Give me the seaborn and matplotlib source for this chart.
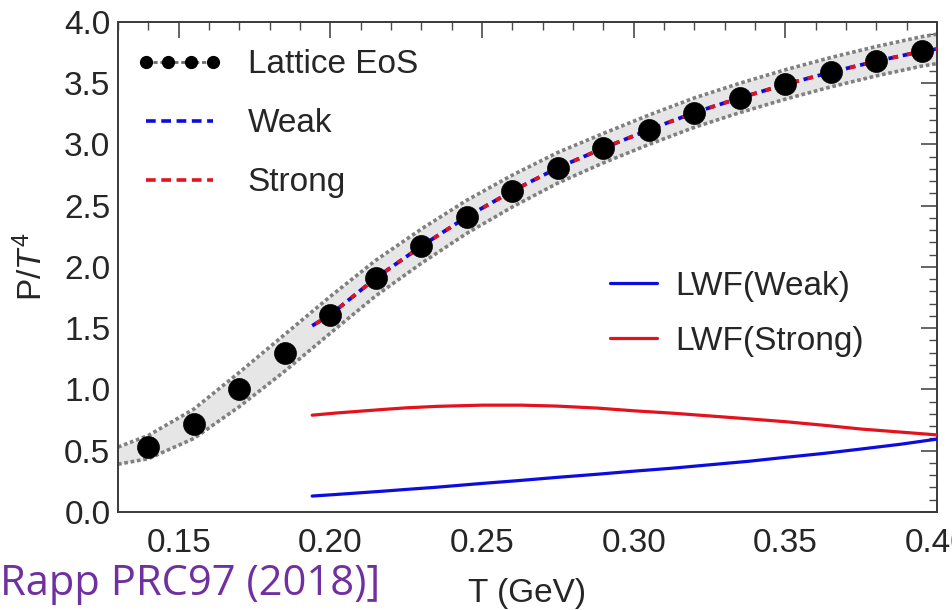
import numpy as np
import pandas as pd
import seaborn as sns
import matplotlib
matplotlib.use("Agg")
import matplotlib.pyplot as plt
from matplotlib.lines import Line2D

# ---- data -----------------------------------------------------------------
# lattice QCD pressure points
lattice_T = [0.140, 0.155, 0.170, 0.185, 0.200, 0.215, 0.230, 0.245, 0.260,
             0.275, 0.290, 0.305, 0.320, 0.335, 0.350, 0.365, 0.380, 0.395]
lattice_P = [0.53, 0.72, 1.00, 1.30, 1.61, 1.91, 2.17, 2.41, 2.62,
             2.81, 2.97, 3.12, 3.26, 3.38, 3.49, 3.59, 3.68, 3.76]

# uncertainty band around the lattice EoS
band_T = [0.130, 0.140, 0.155, 0.170, 0.185, 0.200, 0.215, 0.230, 0.245, 0.260,
          0.275, 0.290, 0.305, 0.320, 0.335, 0.350, 0.365, 0.380, 0.395, 0.400]
band_hi = [0.53, 0.625, 0.84, 1.14, 1.45, 1.76, 2.055, 2.31, 2.545, 2.75,
           2.935, 3.09, 3.24, 3.38, 3.50, 3.61, 3.71, 3.80, 3.88, 3.90]
band_lo = [0.39, 0.435, 0.60, 0.86, 1.15, 1.46, 1.765, 2.03, 2.275, 2.49,
           2.685, 2.85, 3.00, 3.14, 3.26, 3.37, 3.47, 3.56, 3.64, 3.66]

# T-matrix model EoS (weak / strong coupling scenarios)
model_T = [0.194, 0.200, 0.215, 0.230, 0.245, 0.260, 0.275, 0.290, 0.305,
           0.320, 0.335, 0.350, 0.365, 0.380, 0.395, 0.400]
weak_P = [1.52, 1.61, 1.91, 2.17, 2.41, 2.62, 2.81, 2.97, 3.12,
          3.26, 3.38, 3.49, 3.59, 3.68, 3.76, 3.78]
strong_P = [1.52, 1.61, 1.91, 2.17, 2.41, 2.62, 2.81, 2.97, 3.12,
            3.26, 3.38, 3.49, 3.59, 3.68, 3.76, 3.78]

# Luttinger-Ward functional contributions
lwf_T = [0.194, 0.202, 0.210, 0.218, 0.225, 0.235, 0.250, 0.263, 0.275,
         0.288, 0.300, 0.313, 0.325, 0.338, 0.350, 0.363, 0.375, 0.388, 0.400]
lwf_weak = [0.130, 0.143, 0.157, 0.171, 0.184, 0.202, 0.233, 0.258, 0.283,
            0.308, 0.333, 0.358, 0.385, 0.414, 0.446, 0.479, 0.514, 0.553, 0.595]
lwf_strong = [0.790, 0.808, 0.823, 0.838, 0.850, 0.862, 0.872, 0.872, 0.864,
              0.848, 0.826, 0.806, 0.784, 0.760, 0.737, 0.707, 0.677, 0.652, 0.629]

x_major = [0.15, 0.20, 0.25, 0.30, 0.35, 0.40]
x_labels = ["0.15", "0.20", "0.25", "0.30", "0.35", "0.40"]
y_major = [0.0, 0.5, 1.0, 1.5, 2.0, 2.5, 3.0, 3.5, 4.0]
y_labels = ["0.0", "0.5", "1.0", "1.5", "2.0", "2.5", "3.0", "3.5", "4.0"]

# ---- style ----------------------------------------------------------------
sns.set_theme(style="white")
plt.rcParams["font.family"] = ["Liberation Sans", "DejaVu Sans"]
plt.rcParams["mathtext.fontset"] = "custom"
plt.rcParams["mathtext.rm"] = "Liberation Sans"
plt.rcParams["mathtext.it"] = "Liberation Sans:italic"
plt.rcParams["lines.scale_dashes"] = False

BLUE = "#0c0ce0"
RED = "#e3121c"
EDGE = "#808080"
FS = 24

fig = plt.figure(figsize=(9.52, 6.10), dpi=100)
ax = fig.add_axes([0.124, 0.1607, 0.8603, 0.8033])

# band
ax.fill_between(band_T, band_lo, band_hi, color="#e6e6e6", lw=0, zorder=1)
for edge in (band_hi, band_lo):
    sns.lineplot(x=band_T, y=edge, ax=ax, color=EDGE, lw=2.6, zorder=2)
    ln = ax.lines[-1]
    ln.set_linestyle((0, (2.6, 2.0)))
    ln.set_dash_capstyle("butt")

# model curves
sns.lineplot(x=model_T, y=weak_P, ax=ax, color=BLUE, lw=2.7, zorder=3)
ax.lines[-1].set_linestyle((0, (7.0, 3.5)))
sns.lineplot(x=model_T, y=strong_P, ax=ax, color=RED, lw=2.7, zorder=3)
ax.lines[-1].set_linestyle((7.5, (4.0, 6.5)))

# LWF curves
sns.lineplot(x=lwf_T, y=lwf_weak, ax=ax, color=BLUE, lw=2.3, zorder=3)
sns.lineplot(x=lwf_T, y=lwf_strong, ax=ax, color=RED, lw=2.3, zorder=3)

# lattice points
sns.scatterplot(x=lattice_T, y=lattice_P, ax=ax, s=250, color="black",
                edgecolor="black", linewidth=0.5, zorder=5)

# ---- axes -----------------------------------------------------------------
ax.set_xlim(0.13, 0.40)
ax.set_ylim(0.0, 4.0)
ax.set_xticks(x_major)
ax.set_xticklabels(x_labels)
ax.set_yticks(y_major)
ax.set_yticklabels(y_labels)
ax.set_xticks(np.arange(0.13, 0.4001, 0.01), minor=True)
ax.set_yticks(np.arange(0.0, 4.001, 0.1), minor=True)

for sp in ax.spines.values():
    sp.set_color("#3a3a3a")
    sp.set_linewidth(1.4)
ax.tick_params(which="both", direction="in", top=True, right=True,
               color="#4a4a4a")
ax.tick_params(which="major", length=11.5, width=1.2, labelsize=FS)
ax.tick_params(axis="x", which="major", pad=11.5)
ax.tick_params(axis="y", which="major", pad=5.5)
ax.tick_params(which="minor", length=5.8, width=1.0)

ax.set_xlabel("T (GeV)", fontsize=FS, labelpad=14)
ax.set_ylabel(r"P/$T^4$", fontsize=FS, labelpad=11)

# ---- legends --------------------------------------------------------------
h1 = [Line2D([], [], color="#6e6e6e", lw=2.0, ls=(0, (3, 2)), marker="o",
             ms=8.5, mfc="black", mec="black"),
      Line2D([], [], color=BLUE, lw=2.6, ls=(0, (7.0, 4.0))),
      Line2D([], [], color=RED, lw=2.6, ls=(0, (7.0, 4.0)))]
leg1 = ax.legend(h1, ["Lattice EoS", "Weak", "Strong"], loc="upper left",
                 bbox_to_anchor=(0.022, 0.944), frameon=False, fontsize=FS,
                 numpoints=4, handlelength=2.6, handletextpad=0.75,
                 labelspacing=0.84, borderpad=0, borderaxespad=0)
ax.add_artist(leg1)

h2 = [Line2D([], [], color=BLUE, lw=2.3), Line2D([], [], color=RED, lw=2.3)]
ax.legend(h2, ["LWF(Weak)", "LWF(Strong)"], loc="upper left",
          bbox_to_anchor=(0.601, 0.492), frameon=False, fontsize=FS,
          handlelength=1.41, handletextpad=0.54, labelspacing=0.72,
          borderpad=0, borderaxespad=0)

# reference note
fig.text(0.0, 0.0246, "Rapp PRC97 (2018)]", color="#7030A0", fontsize=30,
         family=["Open Sans", "DejaVu Sans"], ha="left", va="baseline")

fig.savefig("out.png", dpi=100)
